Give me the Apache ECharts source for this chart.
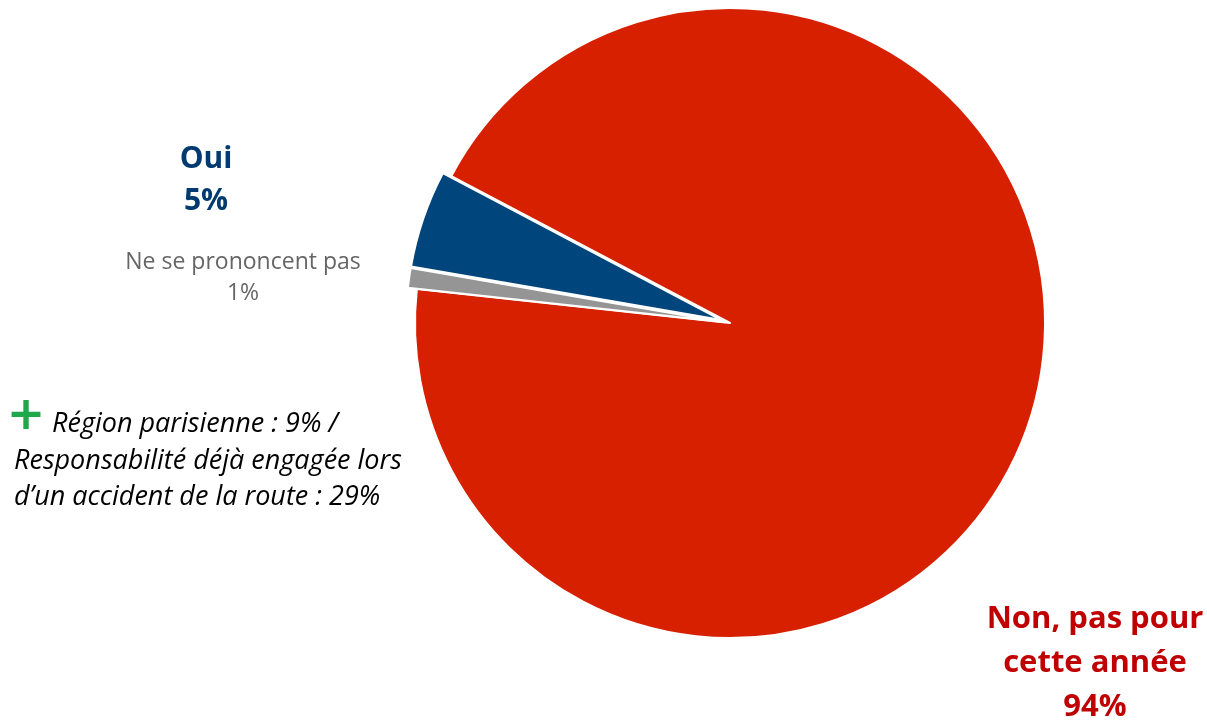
<!DOCTYPE html>
<html>
<head>
<meta charset="utf-8">
<script src="https://cdn.jsdelivr.net/npm/echarts@6/dist/echarts.min.js"></script>
<style>
html,body{margin:0;padding:0;background:#fff;}
#chart{width:1207px;height:720px;}
</style>
</head>
<body>
<div id="chart"></div>
<script>
const categories = ['Non, pas pour\ncette année', 'Ne se prononcent pas', 'Oui'];
const values = [94, 1, 5];
const colors = ['#D62000', '#959595', '#00457C'];
const labelColors = ['#C00000', '#666666', '#003A70'];
const annotationLines = ['Région parisienne : 9% /', 'Responsabilité déjà engagée lors', 'd\u2019un accident de la route : 29%'];

const labelPos = [[1095, 663], [243, 278], [206, 180]];
const labelFonts = [
  {font: 'bold 31px "Open Sans", sans-serif', lineHeight: 44},
  {font: '23px "Open Sans", sans-serif', lineHeight: 31},
  {font: 'bold 30px "Open Sans", sans-serif', lineHeight: 42}
];

const data = categories.map((c, i) => ({
  name: c,
  value: values[i],
  selected: i !== 0,
  itemStyle: {color: colors[i]}
}));

const labelGraphics = categories.map((c, i) => ({
  type: 'text',
  x: labelPos[i][0],
  y: labelPos[i][1],
  style: {
    text: c + '\n' + values[i] + '%',
    fill: labelColors[i],
    font: labelFonts[i].font,
    lineHeight: labelFonts[i].lineHeight,
    align: 'center',
    verticalAlign: 'middle'
  }
}));

const annFont = 'italic 27px "Open Sans", sans-serif';
const annY = [424, 461, 497];
const annX = [52, 14, 14];
const annGraphics = annotationLines.map((t, i) => ({
  type: 'text', x: annX[i], y: annY[i],
  style: {text: t, fill: '#000', font: annFont, verticalAlign: 'middle'}
}));

const chart = echarts.init(document.getElementById('chart'), null, {renderer: 'canvas'});
chart.setOption({
  animation: false,
  series: [{
    type: 'pie',
    center: [730, 323],
    radius: 315,
    startAngle: 152.2,
    clockwise: true,
    selectedMode: 'multiple',
    selectedOffset: 9,
    itemStyle: {borderColor: '#fff', borderWidth: 2},
    label: {show: false},
    labelLine: {show: false},
    emphasis: {disabled: true},
    data: data
  }],
  graphic: labelGraphics.concat(annGraphics, [
    {type: 'text', x: 26, y: 417, style: {text: '+', fill: '#1FA84A', font: 'bold 46px "DejaVu Sans", sans-serif', align: 'center', verticalAlign: 'middle'}}
  ])
});
</script>
</body>
</html>
